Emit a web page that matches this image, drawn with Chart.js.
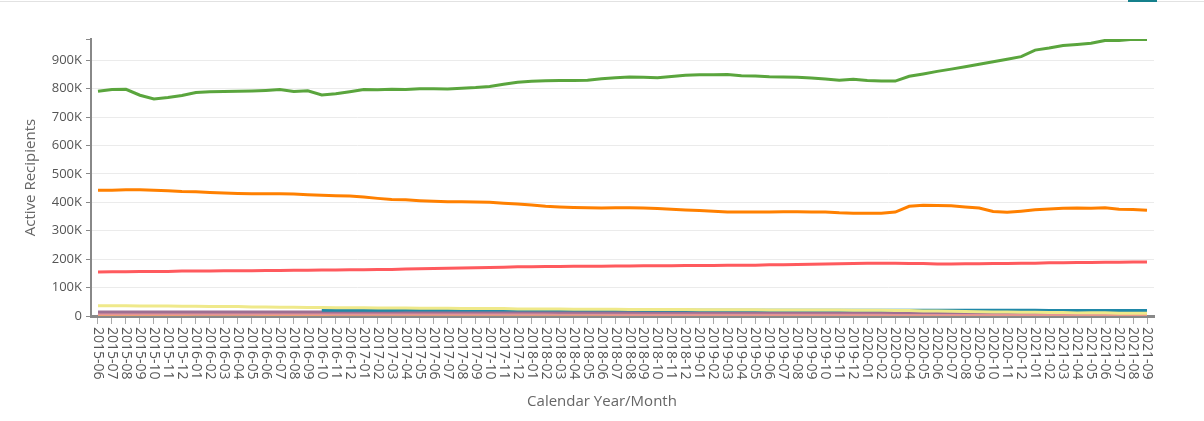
<!DOCTYPE html>
<html>
<head>
<meta charset="utf-8">
<script src="https://cdn.jsdelivr.net/npm/chart.js@4.4.0/dist/chart.umd.min.js"></script>
<style>
  html, body { margin: 0; padding: 0; background: #fff; }
  #wrap { position: relative; width: 1204px; height: 421px; }
  #topline { position: absolute; left: 0; top: 1px; width: 1204px; height: 1px; background: #e2e2e2; }
  #tab { position: absolute; left: 1128px; top: 0; width: 29px; height: 2px; background: #15808c; }
  canvas { position: absolute; left: 0; top: 0; }
</style>
</head>
<body>
<div id="wrap">
  <canvas id="chart" width="1204" height="421"></canvas>
  <div id="topline"></div>
  <div id="tab"></div>
</div>
<script>
// values in thousands of recipients
const months = [
  "2015-06","2015-07","2015-08","2015-09","2015-10","2015-11","2015-12",
  "2016-01","2016-02","2016-03","2016-04","2016-05","2016-06","2016-07","2016-08","2016-09","2016-10","2016-11","2016-12",
  "2017-01","2017-02","2017-03","2017-04","2017-05","2017-06","2017-07","2017-08","2017-09","2017-10","2017-11","2017-12",
  "2018-01","2018-02","2018-03","2018-04","2018-05","2018-06","2018-07","2018-08","2018-09","2018-10","2018-11","2018-12",
  "2019-01","2019-02","2019-03","2019-04","2019-05","2019-06","2019-07","2019-08","2019-09","2019-10","2019-11","2019-12",
  "2020-01","2020-02","2020-03","2020-04","2020-05","2020-06","2020-07","2020-08","2020-09","2020-10","2020-11","2020-12",
  "2021-01","2021-02","2021-03","2021-04","2021-05","2021-06","2021-07","2021-08","2021-09"
];

const yTicks = [0, 100, 200, 300, 400, 500, 600, 700, 800, 900, 975];

const green = [
  791,797,798,777,764,769,776,787,789,790,
  791,792,794,797,790,793,778,782,789,797,
  796,798,797,800,800,799,802,804,808,816,
  823,826,828,829,829,830,835,839,841,840,
  839,843,847,849,849,850,846,845,842,841,
  840,838,834,830,833,829,827,827,844,852,
  861,869,877,886,895,904,913,936,943,952,
  956,960,970,970,974,973
];

const orange = [
  443,443,444,444,443,441,438,437,435,433,
  431,430,430,430,429,427,425,423,422,419,
  414,410,409,406,404,402,402,401,400,397,
  394,391,386,384,382,381,380,381,381,380,
  378,376,373,371,369,366,366,366,366,367,
  367,366,366,363,362,362,362,366,386,390,
  389,388,384,380,368,365,369,374,377,379,
  380,379,381,376,375,372
];

const red = [
  155,156,156,157,157,157,158,158,158,159,
  159,159,160,160,161,161,162,162,163,163,
  164,164,165,166,167,168,169,170,171,172,
  173,173,174,174,175,175,175,176,176,177,
  177,177,178,178,178,179,179,179,180,180,
  181,182,183,184,185,186,186,186,185,185,
  183,183,184,184,185,185,186,186,187,187,
  188,188,189,189,190,190
];

const yellow = [
  36,36,36,35,35,35,34,34,33,33,
  33,32,32,31,31,30,30,29,29,29,
  28,28,28,27,27,27,26,26,26,26,
  25,25,25,25,24,24,24,24,23,23,
  23,23,23,22,22,22,22,22,21,21,
  21,21,21,21,20,20,20,19,19,18,
  18,17,16,15,14,14,13,13,12,12,
  11,11,11,10,10,10
];

const teal = [
  null,null,null,null,null,null,null,null,null,null,
  null,null,null,null,null,null,20,20,20,20,
  20,20,21,21,21,21,21,21,21,21,
  21,21,21,21,21,21,21,21,21,20,
  20,20,20,20,20,20,20,20,20,20,
  20,20,20,20,20,20,20,20,20,20,
  20,20,20,20,20,20,20,20,19,19,
  19,19,19,19,19,19
];

const mauve = [
  14,14,14,14,14,14,14,14,14,14,
  14,14,14,14,14,14,14,14,14,14,
  14,14,14,14,14,14,14,14,14,14,
  14,14,14,13,13,13,13,13,13,13,
  13,13,13,13,13,13,13,13,13,13,
  13,13,13,13,13,13,13,12,12,12,
  12,12,12,12,12,12,12,12,12,12,
  12,12,12,12,12,12
];

const salmon = [
  7,7,7,7,7,7,7,7,7,7,
  7,7,7,7,7,7,7,7,7,7,
  7,7,7,7,7,7,7,7,7,7,
  7,7,7,7,7,7,7,6,6,6,
  6,6,6,6,6,6,6,6,6,6,
  6,6,6,6,6,6,6,6,6,6,
  6,6,6,6,6,6,6,6,6,6,
  6,6,6,6,6,6
];

const lightOrange = [
  5,5,5,5,5,5,5,6,6,6,
  6,6,5,5,5,5,5,6,6,6,
  6,6,6,6,6,6,6,6,6,6,
  6,6,6,6,6,6,6,5,5,5,
  5,5,5,5,5,5,5,5,5,5,
  5,5,5,5,5,5,5,5,5,5,
  5,5,5,5,5,5,5,5,5,5,
  5,5,5,5,5,5
];

const purple = [8,4,1];

const lavender = [
  null,null,null,null,null,null,null,null,null,null,
  null,null,null,null,null,null,null,null,null,null,
  null,null,null,null,null,null,null,null,null,null,
  null,null,null,null,null,null,null,null,null,null,
  null,null,null,null,null,null,null,null,null,null,
  null,null,null,null,null,null,null,null,4,4,
  4,4,4,4,4,4,4,4,4,4,
  4,4,4,4,4,4
];

const seriesList = [
  { data: green, color: "#5aa53d" },
  { data: orange, color: "#ff8000" },
  { data: red, color: "#ff5a5e" },
  { data: yellow, color: "#efe98a" },
  { data: teal, color: "#1f88a8" },
  { data: mauve, color: "#9e7093" },
  { data: salmon, color: "#e4939a" },
  { data: lightOrange, color: "#f8ad4e" },
  { data: purple, color: "#7b3ea8" },
  { data: lavender, color: "#b793cf" }
];

const fontFamily = '"Open Sans", "DejaVu Sans", sans-serif';
const xTitle = "Calendar Year/Month";

// x labels read top-to-bottom, so draw them by hand at the tick positions
const xLabelPlugin = {
  id: "xLabels",
  afterDraw(chart) {
    const scale = chart.scales.x;
    const ctx = chart.ctx;
    ctx.save();
    ctx.font = "14px " + fontFamily;
    ctx.fillStyle = "#555";
    ctx.textAlign = "left";
    ctx.textBaseline = "middle";
    months.forEach((m, i) => {
      const x = scale.getPixelForTick(i);
      ctx.save();
      ctx.translate(x, scale.top + 11);
      ctx.rotate(Math.PI / 2);
      ctx.fillText(m, 0, 0);
      ctx.restore();
    });
    // axis title sits centred on the whole page, not on the plot
    ctx.font = "15px " + fontFamily;
    ctx.fillStyle = "#666";
    ctx.textAlign = "center";
    ctx.fillText(xTitle, chart.width / 2, 402);
    ctx.restore();
  }
};

new Chart("chart", {
  type: "line",
  data: {
    labels: months,
    datasets: seriesList.map(s => ({
      data: s.data,
      borderColor: s.color,
      backgroundColor: s.color,
      borderWidth: 3,
      pointRadius: 0,
      tension: 0,
      fill: false
    }))
  },
  options: {
    responsive: false,
    animation: false,
    devicePixelRatio: 1,
    layout: { padding: { left: 18, top: 39, right: 50, bottom: 6 } },
    plugins: {
      legend: { display: false },
      tooltip: { enabled: false }
    },
    scales: {
      x: {
        offset: true,
        grid: { drawOnChartArea: false, offset: false, tickLength: 8, color: "#aaa" },
        border: { color: "#888", width: 3 },
        ticks: { display: false, autoSkip: false },
        afterFit(s) { s.height = 99; }
      },
      y: {
        min: 0,
        max: 975,
        afterBuildTicks(s) { s.ticks = yTicks.map(v => ({ value: v })); },
        grid: {
          color: c => (c.tick && c.tick.value > 0 && c.tick.value % 100 === 0) ? "#ebebeb" : "rgba(0,0,0,0)",
          tickColor: "#888",
          tickLength: 5
        },
        border: { color: "#888", width: 2 },
        ticks: {
          callback: v => v === 0 ? "0" : (v % 100 === 0 ? v + "K" : ""),
          color: "#555",
          font: { family: fontFamily, size: 13 },
          padding: 4
        },
        title: {
          display: true,
          text: "Active Recipients",
          color: "#666",
          font: { family: fontFamily, size: 15 },
          padding: { top: 4, bottom: 4 }
        },
        afterFit(s) { s.width = 73; }
      }
    }
  },
  plugins: [xLabelPlugin]
});
</script>
</body>
</html>
